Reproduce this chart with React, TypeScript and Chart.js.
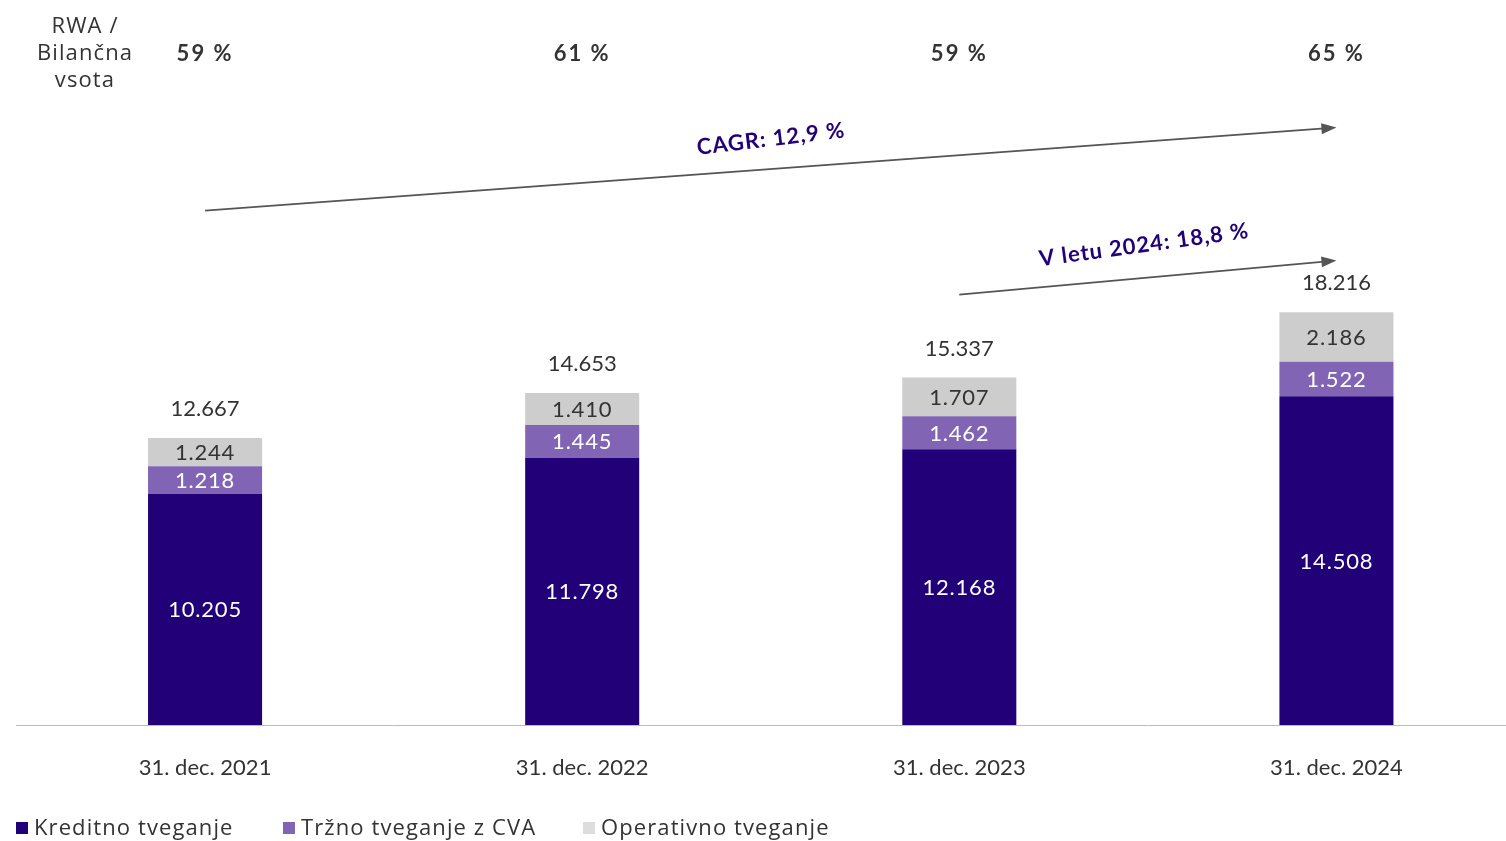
import React, { useEffect, useRef } from "react";
import { Chart, registerables } from "chart.js";

Chart.register(...registerables);

const categories = ["31. dec. 2021", "31. dec. 2022", "31. dec. 2023", "31. dec. 2024"];
const kreditno = [10205, 11798, 12168, 14508];
const trzno = [1218, 1445, 1462, 1522];
const operativno = [1244, 1410, 1707, 2186];
const totals = [12667, 14653, 15337, 18216];
const rwaRatio = ["59 %", "61 %", "59 %", "65 %"];
const seriesNames = ["Kreditno tveganje", "Tržno tveganje z CVA", "Operativno tveganje"];
const seriesColors = ["#220078", "#8264B4", "#CDCDCD"];
const legendColors = ["#220078", "#8264B4", "#DDDDDD"];
const labelColors = ["#FFFFFF", "#FFFFFF", "#333333"];
// annotation arrows: [categoryIndex, value]
const cagrArrow = { from: [0, 22700], to: [3, 26370], text: "CAGR: 12,9 %" };
const yearArrow = { from: [2, 19000], to: [3, 20500], text: "V letu 2024: 18,8 %" };

const FONT = "Lato, 'Open Sans', sans-serif";
const WIDE = "'Open Sans', Lato, sans-serif";

function fmt(v: number) {
  return v.toLocaleString("de-DE");
}

function setSpacing(ctx: any, s: string) {
  try {
    ctx.letterSpacing = s;
  } catch (e) {}
}

const overlayPlugin = {
  id: "overlay",
  afterDatasetsDraw(chart: any) {
    const ctx = chart.ctx as CanvasRenderingContext2D;
    const x = chart.scales.x;
    const y = chart.scales.y;
    ctx.save();
    ctx.textAlign = "center";
    ctx.textBaseline = "middle";

    // segment labels
    setSpacing(ctx, "0.8px");
    chart.data.datasets.forEach((ds: any, di: number) => {
      const meta = chart.getDatasetMeta(di);
      meta.data.forEach((bar: any, i: number) => {
        const top = bar.y;
        const bottom = bar.base;
        ctx.fillStyle = labelColors[di];
        ctx.font = `22px ${FONT}`;
        ctx.fillText(fmt(ds.data[i]), bar.x, (top + bottom) / 2 + 1);
      });
    });

    // totals
    setSpacing(ctx, "0px");
    const lastMeta = chart.getDatasetMeta(2);
    lastMeta.data.forEach((bar: any, i: number) => {
      ctx.fillStyle = "#333333";
      ctx.font = `22px ${FONT}`;
      ctx.fillText(fmt(totals[i]), bar.x, bar.y - 29);
    });

    // top row
    ctx.fillStyle = "#333333";
    ctx.font = `22px ${WIDE}`;
    setSpacing(ctx, "1.1px");
    ["RWA /", "Bilančna", "vsota"].forEach((t, k) => ctx.fillText(t, 85, 27 + k * 27));
    ctx.font = `bold 22px ${FONT}`;
    setSpacing(ctx, "2px");
    rwaRatio.forEach((t, i) => ctx.fillText(t, x.getPixelForValue(i), 54));

    // arrows
    const drawArrow = (a: any) => {
      const x1 = x.getPixelForValue(a.from[0]);
      const y1 = y.getPixelForValue(a.from[1]);
      const x2 = x.getPixelForValue(a.to[0]);
      const y2 = y.getPixelForValue(a.to[1]);
      const ang = Math.atan2(y2 - y1, x2 - x1);
      ctx.strokeStyle = "#555555";
      ctx.fillStyle = "#555555";
      ctx.lineWidth = 1.8;
      ctx.beginPath();
      ctx.moveTo(x1, y1);
      ctx.lineTo(x2 - 12 * Math.cos(ang), y2 - 12 * Math.sin(ang));
      ctx.stroke();
      ctx.beginPath();
      ctx.moveTo(x2, y2);
      ctx.lineTo(x2 - 15 * Math.cos(ang) + 5.5 * Math.sin(ang), y2 - 15 * Math.sin(ang) - 5.5 * Math.cos(ang));
      ctx.lineTo(x2 - 15 * Math.cos(ang) - 5.5 * Math.sin(ang), y2 - 15 * Math.sin(ang) + 5.5 * Math.cos(ang));
      ctx.closePath();
      ctx.fill();
      return { x1, y1, x2, y2, ang };
    };
    const a1 = drawArrow(cagrArrow);
    const a2 = drawArrow(yearArrow);

    const drawRotText = (text: string, cx: number, cy: number, ang: number) => {
      ctx.save();
      ctx.translate(cx, cy);
      ctx.rotate(ang - 0.045);
      ctx.fillStyle = "#220078";
      ctx.font = `bold 22px ${FONT}`;
      setSpacing(ctx, "1px");
      ctx.fillText(text, 0, 0);
      ctx.restore();
    };
    drawRotText(cagrArrow.text, 771, 139, a1.ang);
    drawRotText(yearArrow.text, 1144, 245, a2.ang);

    // legend
    ctx.textAlign = "left";
    setSpacing(ctx, "1.1px");
    const legendX = [16, 283, 583];
    seriesNames.forEach((n, k) => {
      ctx.fillStyle = legendColors[k];
      ctx.fillRect(legendX[k], 822, 12, 12);
      ctx.fillStyle = "#333333";
      ctx.font = `22px ${WIDE}`;
      ctx.fillText(n, legendX[k] + 18, 829);
    });
    ctx.restore();
  },
};

export default function App() {
  const ref = useRef<HTMLCanvasElement>(null);
  useEffect(() => {
    document.body.style.margin = "0";
    const chart = new Chart(ref.current!, {
      type: "bar",
      data: {
        labels: categories,
        datasets: [kreditno, trzno, operativno].map((d, k) => ({
          label: seriesNames[k],
          data: d,
          backgroundColor: seriesColors[k],
          borderWidth: 0,
          categoryPercentage: 114 / 377,
          barPercentage: 1,
        })),
      },
      options: {
        animation: false,
        responsive: false,
        layout: { padding: { left: 16.5, right: 0, top: 0, bottom: 0 } },
        plugins: { legend: { display: false }, tooltip: { enabled: false } },
        scales: {
          x: {
            stacked: true,
            grid: { display: false, drawTicks: false },
            border: { display: true, color: "#BBBBBB", width: 1 },
            ticks: { color: "#333333", font: { family: FONT, size: 22 }, padding: 30 },
            afterFit: (s: any) => {
              s.height = 116;
            },
          },
          y: {
            stacked: true,
            display: false,
            min: 0,
            max: 32000,
          },
        },
      },
      plugins: [overlayPlugin],
    });
    return () => chart.destroy();
  }, []);
  return (
    <div style={{ position: "fixed", left: 0, top: 0, width: 1506, height: 841, overflow: "hidden", background: "#fff" }}>
      <canvas ref={ref} width={1525} height={841} style={{ display: "block" }} />
    </div>
  );
}
